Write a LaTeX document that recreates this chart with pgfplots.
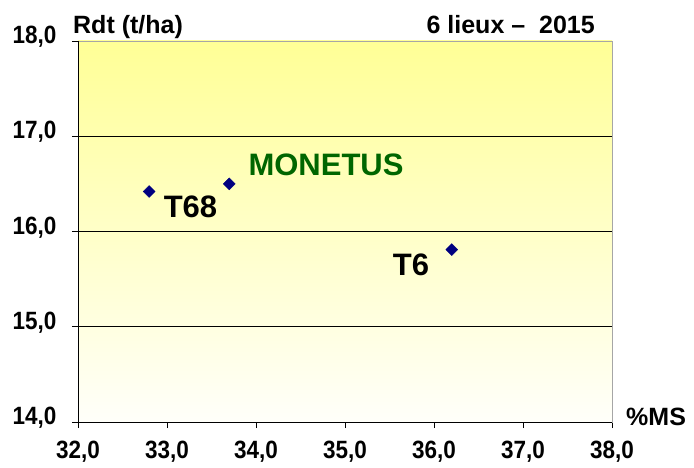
\documentclass[border=0pt]{standalone}
\usepackage{fontspec}
\setmainfont{Liberation Sans}
\newfontfamily\ticknarrow[FakeStretch=0.9]{Liberation Sans}
\usepackage{pgfplots}
\pgfplotsset{compat=1.18}
\definecolor{navyblue}{RGB}{0,0,128}
\definecolor{dkgreen}{RGB}{0,102,0}
\definecolor{ytop}{RGB}{255,255,150}
\definecolor{ymid}{RGB}{255,255,210}
\definecolor{ybot}{RGB}{255,255,250}
\pgfplotsset{every tick/.style={black, line width=0.8pt}}
\begin{document}
\begin{tikzpicture}
\path[use as bounding box] (-78pt,-45pt) rectangle (616pt,422pt);
\shade[top color=ytop, middle color=ymid, bottom color=ybot] (0pt,0pt) rectangle (534pt,381pt);
\begin{axis}[
  scale only axis, width=534pt, height=381pt,
  at={(0,0)}, anchor=south west,
  clip=false,
  xmin=32, xmax=38, ymin=14, ymax=18,
  xtick={32,33,...,38}, ytick={14,15,...,18},
  xtick pos=left, ytick pos=left,
  axis line style={gray!70, line width=0.8pt},
  tick align=outside, major tick length=6pt,
  ymajorgrids, grid style={black, line width=0.7pt},
  tick label style={font=\fontsize{25}{25}\selectfont\ticknarrow\bfseries},
  xticklabel style={anchor=base, yshift=-30pt},
  yticklabel style={anchor=mid east, xshift=-12pt},
  xticklabel shift=0pt, yticklabel shift=0pt,
  /pgf/number format/.cd, fixed, fixed zerofill, precision=1, use comma, assume math mode=true,
]
\addplot[only marks, mark=square*, mark size=4.2pt, mark options={rotate=45, fill=navyblue, draw=navyblue}]
  coordinates {(32.8,16.42) (33.7,16.5) (36.2,15.81)};
\draw[black, line width=0.8pt] (rel axis cs:0,1) -- (rel axis cs:0,0) -- (rel axis cs:1,0);
\node[anchor=base, inner sep=0, font=\fontsize{31}{31}\selectfont\bfseries] at (axis cs:33.264,16.142) {T68};
\node[anchor=base, inner sep=0, text=dkgreen, font=\fontsize{31}{31}\selectfont\bfseries] at (axis cs:34.787,16.593) {MONETUS};
\node[anchor=base, inner sep=0, font=\fontsize{31}{31}\selectfont\bfseries] at (axis cs:35.742,15.533) {T6};
\node[anchor=base west, inner sep=0, xshift=-5pt, yshift=8pt, font=\fontsize{25}{25}\selectfont\bfseries] at (rel axis cs:0,1) {Rdt (t/ha)};
\node[anchor=base east, inner sep=0, xshift=-17pt, yshift=8pt, font=\fontsize{25}{25}\selectfont\bfseries] at (rel axis cs:1,1) {6 lieux --\ \ 2015};
\node[anchor=base west, inner sep=0, xshift=14pt, yshift=-3pt, font=\fontsize{25}{25}\selectfont\bfseries] at (rel axis cs:1,0) {\%MS};
\end{axis}
\end{tikzpicture}
\end{document}
